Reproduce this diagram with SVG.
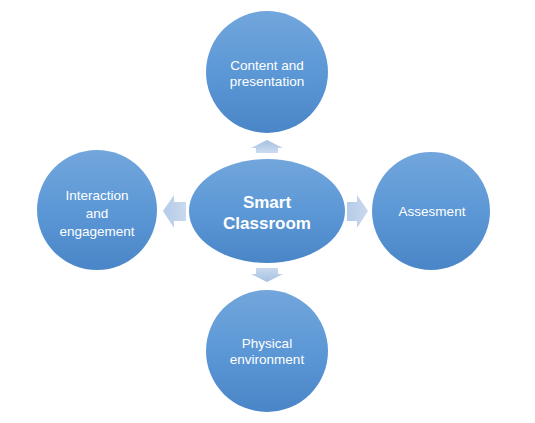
<svg xmlns="http://www.w3.org/2000/svg" width="535" height="423" viewBox="0 0 535 423">
<defs>
<linearGradient id="gc" x1="0" y1="0" x2="0" y2="1">
<stop offset="0" stop-color="#72A6DC"/>
<stop offset="0.5" stop-color="#5C98D6"/>
<stop offset="1" stop-color="#4A86C7"/>
</linearGradient>
<linearGradient id="gv" x1="0" y1="0" x2="0" y2="1">
<stop offset="0" stop-color="#A5C0E2"/>
<stop offset="1" stop-color="#CCDCEF"/>
</linearGradient>
<linearGradient id="gh" x1="0" y1="0" x2="1" y2="0">
<stop offset="0" stop-color="#B5CBE8"/>
<stop offset="1" stop-color="#C9D9EE"/>
</linearGradient>
<linearGradient id="gd" x1="0" y1="0" x2="0" y2="1">
<stop offset="0" stop-color="#C9D9EE"/>
<stop offset="1" stop-color="#A5C0E2"/>
</linearGradient>
</defs>
<style>
.n{fill:url(#gc);}
.t{font-family:"Liberation Sans",Arial,sans-serif;font-size:13.5px;fill:#FFFFFF;text-anchor:middle;}
.b{font-family:"Liberation Sans",Arial,sans-serif;font-size:17px;font-weight:bold;fill:#FFFFFF;text-anchor:middle;}
</style>
<rect width="535" height="423" fill="#FFFFFF"/>
<g id="connectors">
<path d="M267 140 L283 148 L278 148 L278 153 L256 153 L256 148 L251 148 Z" fill="url(#gv)"/>
<path d="M163 211 L174 195 L174 202 L186 202 L186 221 L174 221 L174 228 Z" fill="url(#gh)"/>
<path d="M368 211 L357 195 L357 202 L347 202 L347 221 L357 221 L357 228 Z" fill="url(#gh)"/>
<path d="M267 282 L283 274 L278 274 L278 268 L256 268 L256 274 L251 274 Z" fill="url(#gd)"/>
</g>
<g id="content">
<circle class="n" cx="267" cy="72" r="61"/>
<text class="t" x="267" y="70">Content and</text>
<text class="t" x="267" y="86">presentation</text>
</g>
<g id="center">
<ellipse class="n" cx="267" cy="211" rx="78" ry="52"/>
<text class="b" x="267" y="208">Smart</text>
<text class="b" x="267" y="229">Classroom</text>
</g>
<g id="interaction">
<circle class="n" cx="97" cy="210" r="60"/>
<text class="t" x="97" y="200">Interaction</text>
<text class="t" x="97" y="218">and</text>
<text class="t" x="97" y="236">engagement</text>
</g>
<g id="assesment">
<circle class="n" cx="431" cy="211" r="59"/>
<text class="t" x="432" y="216">Assesment</text>
</g>
<g id="physical">
<circle class="n" cx="267" cy="351" r="61"/>
<text class="t" x="267" y="348">Physical</text>
<text class="t" x="267" y="364">environment</text>
</g>
</svg>
